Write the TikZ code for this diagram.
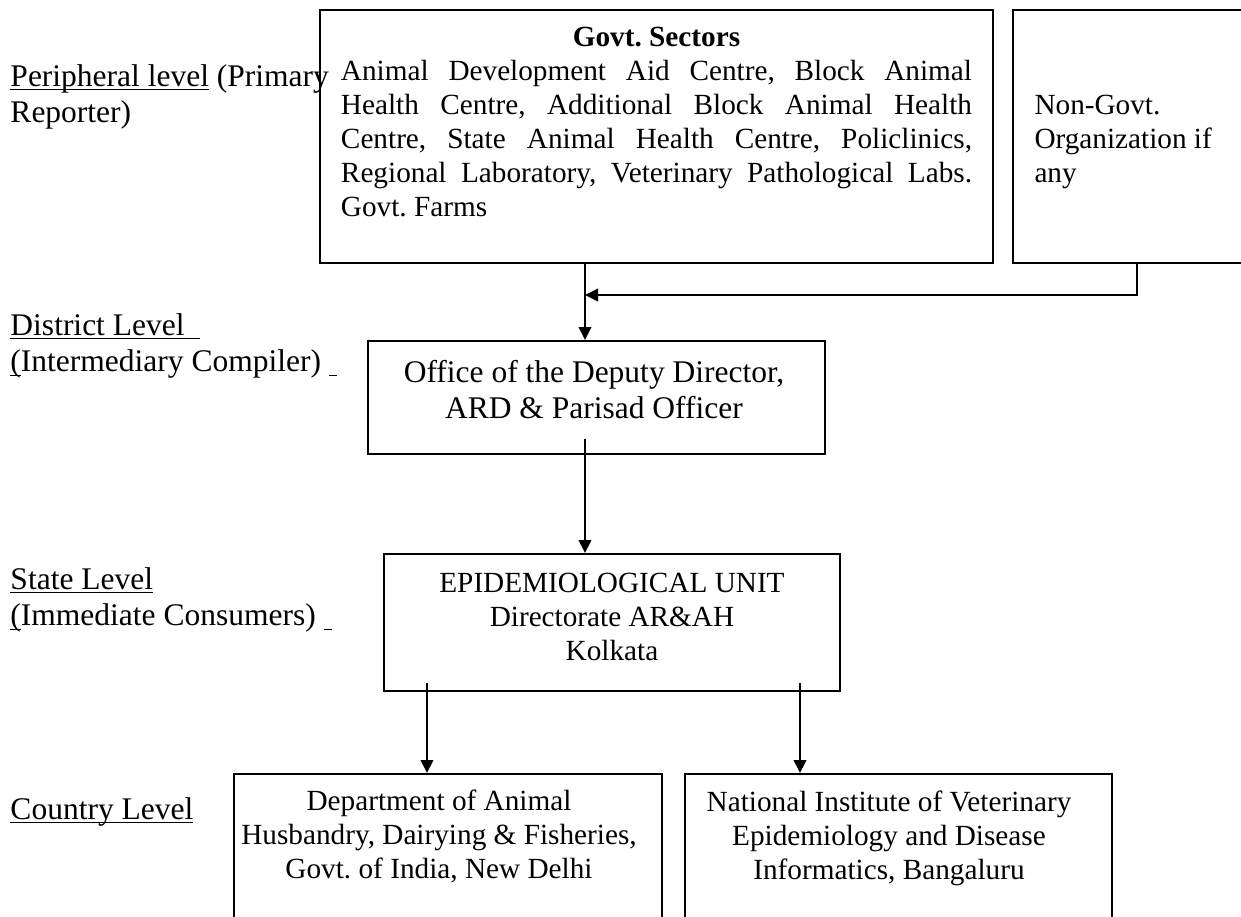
\documentclass[tikz,border=0pt]{standalone}
\usepackage{fontspec}
\setmainfont{Liberation Serif}
\usepackage{xcolor}
\definecolor{textcolor}{RGB}{0,0,0}
\definecolor{rulecolor}{RGB}{0,0,0}
\usepackage{tikz}
\usetikzlibrary{arrows.meta,calc}
\setlength{\parindent}{0pt}
\frenchspacing

\begin{document}
\begin{tikzpicture}[x=0.4pt, y=-0.4pt,
  every node/.style={color=textcolor, inner sep=0pt},
  levelbox/.style={draw=rulecolor, line width=0.8pt, rectangle},
  boxtext/.style={font=\fontsize{11.7}{13.6}\selectfont, align=center},
  leveltext/.style={font=\fontsize{12.6}{14.6}\selectfont, align=left, anchor=west},
  feed/.style={-{Triangle[length=5.2pt,width=5pt]}, line width=0.8pt, color=rulecolor}]
  \useasboundingbox (0,0) rectangle (1241,916);
  \clip (0,0) rectangle (1241,916);

  % boxes
  \node[levelbox, minimum width=269.2pt, minimum height=101.2pt] (govt) at (656.5,136.5) {};
  \node[levelbox, minimum width=98.8pt, minimum height=101.2pt] (ngo) at (1136.5,136.5) {};
  \node[levelbox, minimum width=182.8pt, minimum height=45.2pt] (office) at (596.5,397.5) {};
  \node[levelbox, minimum width=182.4pt, minimum height=54.8pt] (epi) at (612,622.5) {};
  \node[levelbox, minimum width=171.2pt, minimum height=74.4pt] (dahd) at (448,867) {};
  \node[levelbox, minimum width=170.8pt, minimum height=74.4pt] (nivedi) at (898.5,867) {};

  % box texts
  \node[boxtext, text width=252.4pt, align=justify] (govttext) at (656.5,122)
    {{\centering\bfseries Govt. Sectors\par}
     Animal Development Aid Centre, Block Animal\linebreak
     Health Centre, Additional Block Animal Health\linebreak
     Centre, State Animal Health Centre, Policlinics,\linebreak
     Regional Laboratory, Veterinary Pathological Labs.\linebreak
     Govt. Farms};
  \node[boxtext, align=left, anchor=west] (ngotext) at (1034,142) {Non-Govt.\\Organization if\\any};
  \node[boxtext, font=\fontsize{12.6}{14.4}\selectfont] (officetext) at (594,390)
    {Office of the Deputy Director,\\ARD \& Parisad Officer};
  \node[boxtext] (epitext) at (612,617) {EPIDEMIOLOGICAL UNIT\\Directorate AR\&AH\\Kolkata};
  \node[boxtext] (dahdtext) at (439,836)
    {Department of Animal\\Husbandry, Dairying \& Fisheries,\\Govt. of India, New Delhi};
  \node[boxtext] (niveditext) at (889,838)
    {National Institute of Veterinary\\Epidemiology and Disease\\Informatics, Bangaluru};

  % level labels
  \node[leveltext] (peri) at (10,97) {\underline{\smash{Peripheral level}} (Primary\\Reporter)};
  \node[leveltext] (district) at (10,357)
    {\underline{\smash{District Level\ \ }}\\\underline{\smash{(}}Intermediary Compiler) \underline{\smash{\ }}};
  \node[leveltext] (state) at (10,611)
    {\underline{\smash{State Level}}\\\underline{\smash{(}}Immediate Consumers) \underline{\smash{\ }}};
  \node[leveltext, anchor=base west] (country) at (10,819) {\underline{\smash{Country Level}}};

  % connectors
  \coordinate (spine) at (585,295);
  \coordinate (ngojoin) at (1137,295);
  \coordinate (officeout) at ([yshift=6.4pt]office.south);
  \coordinate (lftdrop) at (427,683);
  \coordinate (rgtdrop) at (800,683);

  \draw[feed] (govt.south -| spine) -- (office.north -| spine);
  \draw[feed] (ngo.south -| ngojoin) -- (ngojoin) -- (spine);
  \draw[feed] (officeout -| spine) -- (epi.north -| spine);
  \draw[feed] (lftdrop) -- (dahd.north -| lftdrop);
  \draw[feed] (rgtdrop) -- (nivedi.north -| rgtdrop);
\end{tikzpicture}
\end{document}
